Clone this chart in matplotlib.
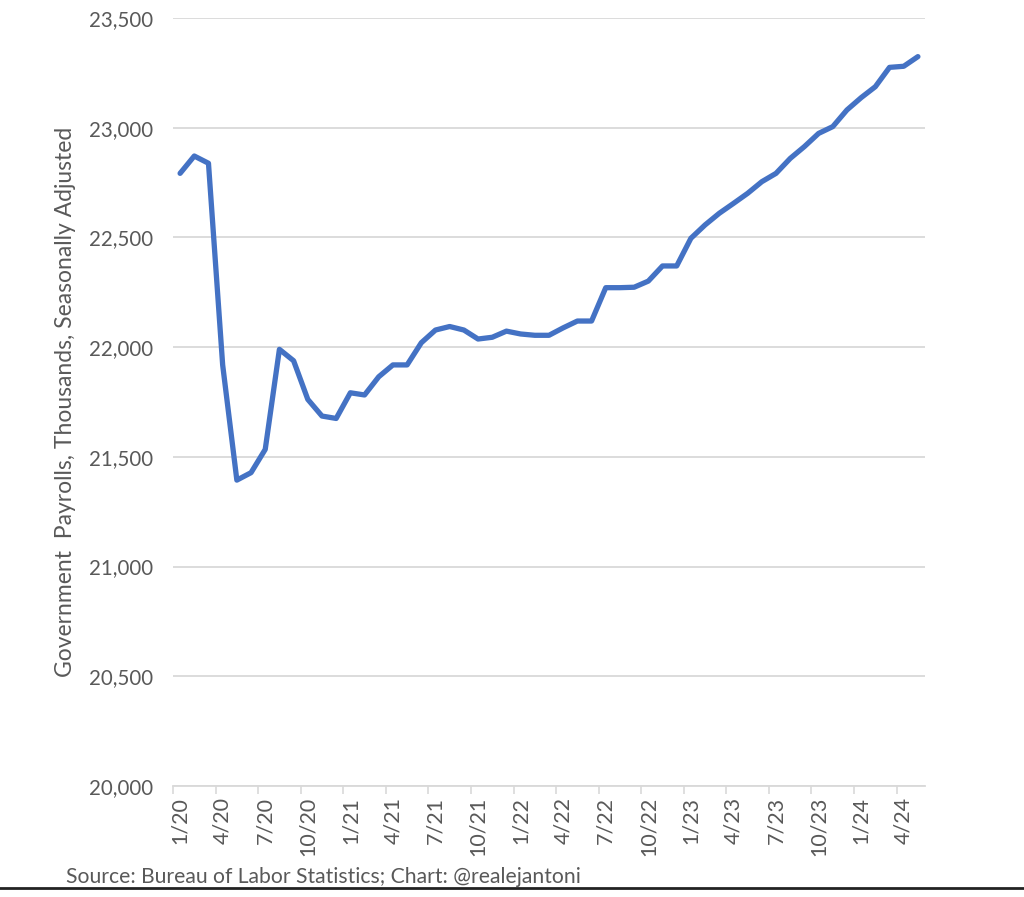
import matplotlib
matplotlib.use("Agg")
import matplotlib.pyplot as plt
from matplotlib.lines import Line2D
from matplotlib.ticker import FuncFormatter

# Monthly government payrolls (thousands, SA), Jan 2020 - May 2024
values_2020 = [22792, 22871, 22838, 21919, 21394, 21428, 21534, 21990, 21938, 21762, 21686, 21675]
values_2021 = [21792, 21782, 21865, 21919, 21919, 22020, 22078, 22094, 22078, 22037, 22045, 22073]
values_2022 = [22060, 22054, 22054, 22088, 22119, 22119, 22271, 22271, 22273, 22301, 22370, 22370]
values_2023 = [22496, 22557, 22610, 22655, 22701, 22754, 22792, 22860, 22914, 22974, 23005, 23081]
values_2024 = [23137, 23187, 23275, 23280, 23324]
values = values_2020 + values_2021 + values_2022 + values_2023 + values_2024

tick_labels = ["1/20", "4/20", "7/20", "10/20", "1/21", "4/21", "7/21", "10/21",
               "1/22", "4/22", "7/22", "10/22", "1/23", "4/23", "7/23", "10/23",
               "1/24", "4/24"]
y_ticks = [20000, 20500, 21000, 21500, 22000, 22500, 23000, 23500]

plt.rcParams['font.family'] = ['Lato', 'DejaVu Sans']
gray = "#595959"
grid = "#d9d9d9"

fig = plt.figure(figsize=(10.24, 8.97), dpi=100)
ax = fig.add_axes([173/1024, 1 - 786/897, (925-173)/1024, (786-18)/897])

x = list(range(len(values)))
ax.plot(x, values, color="#4472C4", lw=3.8, solid_joinstyle="round", solid_capstyle="round", zorder=3)

ax.set_xlim(-0.5, len(values) - 0.5)
ax.set_ylim(20000, 23500)
ax.set_yticks(y_ticks)
ax.yaxis.set_major_formatter(FuncFormatter(lambda v, p: f"{int(v):,}"))
ax.tick_params(axis="y", length=0, pad=14, labelsize=14.8, labelcolor=gray)
ax.yaxis.grid(True, color=grid, lw=1.3)
ax.set_axisbelow(True)

# category boundary tick marks every 3 months, labels at category centres
ax.set_xticks([-0.5 + 3 * k for k in range(len(tick_labels))])
ax.set_xticklabels([])
ax.tick_params(axis="x", which="major", length=6, width=1.2, color=grid, direction="out")
ax.set_xticks([3 * k for k in range(len(tick_labels))], minor=True)
ax.set_xticklabels(tick_labels, minor=True, rotation=90)
ax.tick_params(axis="x", which="minor", length=0, pad=8, labelsize=15.5, labelcolor=gray)

for s in ["top", "right", "left"]:
    ax.spines[s].set_visible(False)
ax.spines["bottom"].set_color(grid)
ax.spines["bottom"].set_linewidth(1.3)

ax.set_ylabel("Government  Payrolls, Thousands, Seasonally Adjusted", fontsize=16.5, color=gray, labelpad=10)

fig.text(66/1024, 1 - 877/897, "Source: Bureau of Labor Statistics; Chart: @realejantoni",
         fontsize=15.2, color=gray, va="center", ha="left")

fig.add_artist(Line2D([0, 1], [1 - 888/897, 1 - 888/897], transform=fig.transFigure, color="#222222", lw=2))

fig.savefig("out.png", dpi=100, facecolor="white")
